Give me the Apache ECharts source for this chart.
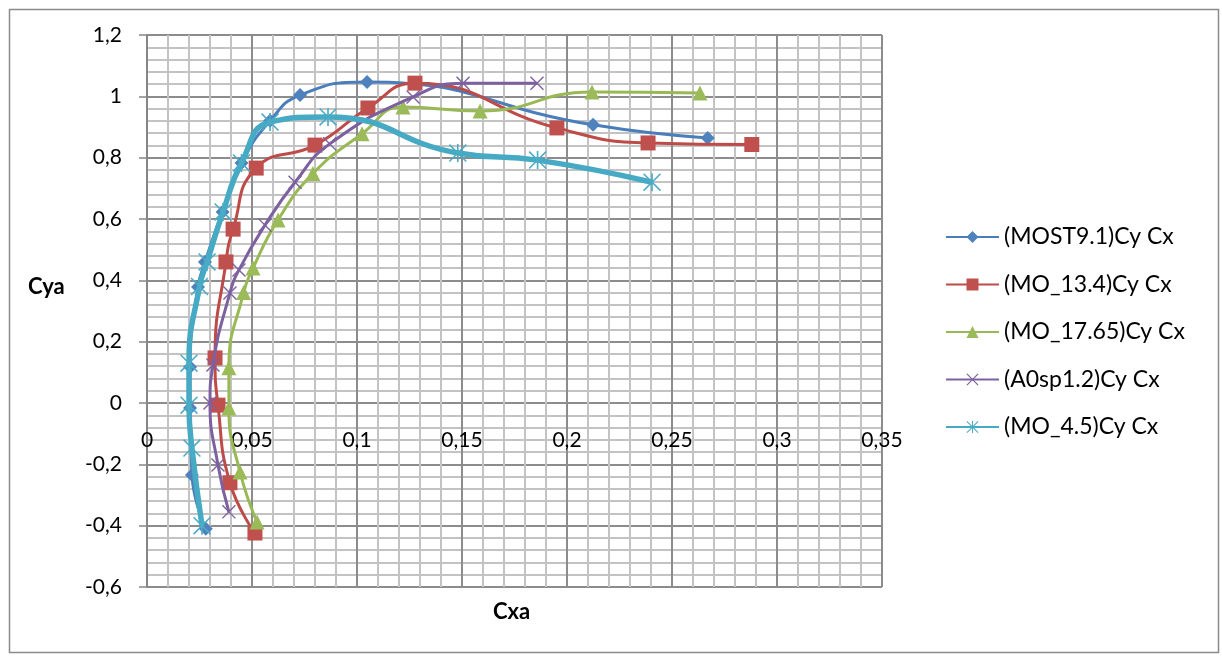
<!DOCTYPE html>
<html>
<head>
<meta charset="utf-8">
<script src="https://cdn.jsdelivr.net/npm/echarts@6/dist/echarts.min.js"></script>
<style>html,body{margin:0;padding:0;background:#fff}#c{width:1222px;height:657px}</style>
</head>
<body>
<div id="c"></div>
<script>
// ---- data ----
const seriesNames = ['(MOST9.1)Cy Cx', '(MO_13.4)Cy Cx', '(MO_17.65)Cy Cx', '(A0sp1.2)Cy Cx', '(MO_4.5)Cy Cx'];

const most91Cx = [0.028, 0.0214, 0.0205, 0.0205, 0.0243, 0.0276, 0.036, 0.045, 0.0586, 0.0729, 0.1048, 0.2124, 0.267];
const most91Cy = [-0.41, -0.235, -0.016, 0.117, 0.378, 0.46, 0.623, 0.783, 0.92, 1.004, 1.047, 0.907, 0.864];

const mo134Cx = [0.0514, 0.0395, 0.0338, 0.0324, 0.0376, 0.041, 0.052, 0.080, 0.1052, 0.1276, 0.1952, 0.2386, 0.288];
const mo134Cy = [-0.424, -0.26, -0.007, 0.147, 0.46, 0.567, 0.766, 0.841, 0.962, 1.043, 0.897, 0.848, 0.843];

const mo1765Cx = [0.0524, 0.0443, 0.039, 0.039, 0.046, 0.0505, 0.0624, 0.079, 0.1024, 0.1219, 0.1586, 0.2119, 0.2633];
const mo1765Cy = [-0.388, -0.225, -0.016, 0.115, 0.36, 0.44, 0.597, 0.748, 0.878, 0.965, 0.952, 1.014, 1.011];

const a0sp12Cx = [0.039, 0.0338, 0.030, 0.0314, 0.0395, 0.0438, 0.0562, 0.0705, 0.087, 0.1267, 0.1505, 0.1857];
const a0sp12Cy = [-0.355, -0.202, 0.0, 0.124, 0.359, 0.434, 0.58, 0.72, 0.845, 0.998, 1.043, 1.043];

const mo45Cx = [0.0262, 0.0214, 0.020, 0.020, 0.025, 0.0286, 0.0362, 0.045, 0.0586, 0.0862, 0.148, 0.186, 0.2405];
const mo45Cy = [-0.40, -0.147, -0.007, 0.13, 0.38, 0.46, 0.623, 0.783, 0.916, 0.933, 0.815, 0.792, 0.72];

const xTickLabels = ['0', '0,05', '0,1', '0,15', '0,2', '0,25', '0,3', '0,35'];
const yTickLabels = ['-0,6', '-0,4', '-0,2', '0', '0,2', '0,4', '0,6', '0,8', '1', '1,2'];

// ---- chart ----
const FONT = 'Lato';
const xPath = 'path://M0,0.7 L0.7,0 L10,9.3 L9.3,10 Z M9.3,0 L10,0.7 L0.7,10 L0,9.3 Z';
const starPath = 'path://M0,0.6 L0.6,0 L10,9.4 L9.4,10 Z M9.4,0 L10,0.6 L0.6,10 L0,9.4 Z M4.55,0 L5.45,0 L5.45,10 L4.55,10 Z';

function pairs(xs, ys) { return xs.map((x, i) => [x, ys[i]]); }

const styles = [
  { line: '#4A7EBB', fill: '#4F81BD', symbol: 'diamond', size: 14, width: 3 },
  { line: '#BE4B48', fill: '#C0504D', symbol: 'rect', size: 15, width: 3 },
  { line: '#98B954', fill: '#9BBB59', symbol: 'triangle', size: 15, width: 3 },
  { line: '#7D60A0', fill: '#7D60A0', symbol: xPath, size: 14, width: 3 },
  { line: '#46AAC5', fill: '#4BACC6', symbol: starPath, size: 18, width: 5.5 }
];
const allData = [
  pairs(most91Cx, most91Cy),
  pairs(mo134Cx, mo134Cy),
  pairs(mo1765Cx, mo1765Cy),
  pairs(a0sp12Cx, a0sp12Cy),
  pairs(mo45Cx, mo45Cy)
];

const series = seriesNames.map((name, i) => ({
  name: name,
  type: 'line',
  smooth: 0.5,
  data: allData[i],
  symbol: styles[i].symbol,
  symbolSize: styles[i].size,
  showAllSymbol: true,
  lineStyle: { color: styles[i].line, width: styles[i].width },
  itemStyle: { color: styles[i].fill, borderWidth: 0 },
  emphasis: { disabled: true },
  z: 2 + i
}));

const chart = echarts.init(document.getElementById('c'), null, { renderer: 'canvas' });
chart.setOption({
  animation: false,
  backgroundColor: '#ffffff',
  grid: { left: 147, right: 340, top: 35, bottom: 70, containLabel: false },
  xAxis: {
    type: 'value',
    position: 'bottom',
    min: 0, max: 0.35, interval: 0.05,
    axisLine: { show: false, onZero: false },
    axisTick: { show: false },
    axisLabel: {
      margin: -157, color: '#000', fontFamily: FONT, fontSize: 21,
      formatter: v => xTickLabels[Math.round(v / 0.05)]
    },
    splitLine: { show: true, lineStyle: { color: '#8c8c8c', width: 2 } },
    minorTick: { show: false, splitNumber: 5 },
    minorSplitLine: { show: true, lineStyle: { color: '#c3c3c3', width: 2 } }
  },
  yAxis: {
    type: 'value',
    min: -0.6, max: 1.2, interval: 0.2,
    axisLine: { show: true, onZero: false, lineStyle: { color: '#868686', width: 2 } },
    axisTick: { show: true, length: 8, lineStyle: { color: '#868686', width: 1.5 } },
    axisLabel: {
      margin: 25, color: '#000', fontFamily: FONT, fontSize: 21,
      formatter: v => yTickLabels[Math.round((v + 0.6) / 0.2)]
    },
    splitLine: { show: true, lineStyle: { color: '#8c8c8c', width: 2 } },
    minorTick: { show: false, splitNumber: 5 },
    minorSplitLine: { show: true, lineStyle: { color: '#c3c3c3', width: 2 } }
  },
  legend: {
    orient: 'vertical',
    left: 945, top: 225, padding: 0,
    itemWidth: 53, itemHeight: 15, itemGap: 23.5,
    textStyle: { fontFamily: FONT, fontSize: 23, color: '#000', lineHeight: 24 },
    data: seriesNames
  },
  graphic: [
    { type: 'rect', left: 7, top: 7, shape: { width: 1209, height: 643 }, style: { fill: 'none', stroke: '#8a8a8a', lineWidth: 1.5 }, silent: true },
    { type: 'text', left: 28, top: 276, style: { text: 'Cya', font: 'bold 22px ' + FONT, fill: '#000' } },
    { type: 'text', left: 493, top: 601, style: { text: 'Cxa', font: 'bold 22px ' + FONT, fill: '#000' } }
  ],
  series: series
});
</script>
</body>
</html>
